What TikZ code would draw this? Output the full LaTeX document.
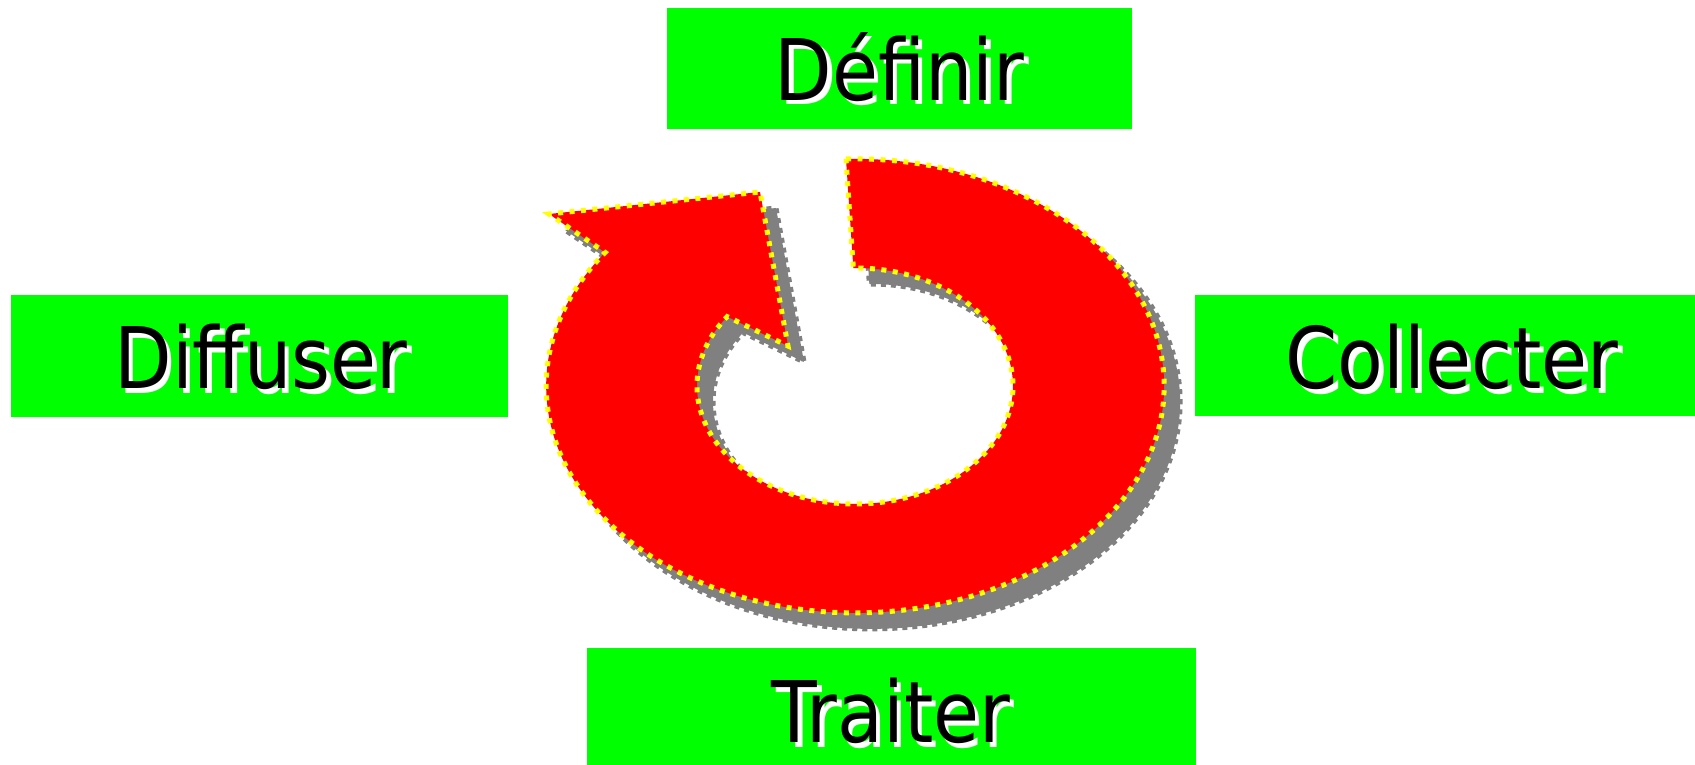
\documentclass[tikz,border=0pt]{standalone}
\usepackage{fontspec}
\setmainfont[FakeStretch=0.88]{DejaVu Sans}
\usetikzlibrary{calc}
\definecolor{boxgreen}{HTML}{00FF00}
\definecolor{arrred}{HTML}{FF0000}
\definecolor{arryellow}{HTML}{FFFF00}
\definecolor{shgray}{HTML}{808080}
\newcommand{\shadowtext}[1]{\makebox[0pt][l]{\hspace{4.5pt}\raisebox{-4.5pt}{\textcolor{white}{#1}}}#1}
\tikzset{
  box/.style={fill=boxgreen, draw=none, inner sep=0pt},
  lbl/.style={anchor=base, inner sep=0pt, text=black, font=\fontsize{85}{100}\selectfont},
  arrowbody/.style={fill=arrred, draw=arryellow, line width=5pt, dash pattern=on 5pt off 6.5pt, line join=miter},
  arrowshadow/.style={fill=shgray, draw=shgray, line width=5pt, dash pattern=on 5pt off 5pt},
}
\newcommand{\cyclepath}{
  (846,606) arc[start angle=91.7, end angle=-216, x radius=309, y radius=227]
  -- (549,551) -- (760,573) -- (788,419)
  -- ($(855,379)+(-216:158 and 118)$)
  arc[start angle=-216, end angle=90.6, x radius=158, y radius=118]
  -- cycle}
\begin{document}
\begin{tikzpicture}[x=1pt,y=1pt]
\useasboundingbox (0,0) rectangle (1695,765);
% boxes
\node[box, minimum width=465pt, minimum height=121pt] (def) at (899.5,696.5) {};
\node[box, minimum width=497pt, minimum height=122pt] (dif) at (259.5,409) {};
\node[box, minimum width=500pt, minimum height=121pt] (col) at (1445,409.5) {};
\node[box, minimum width=609pt, minimum height=117pt] (tra) at (891.5,58.5) {};
% labels
\node[lbl] (deft) at (899.5,664.5) {\shadowtext{Définir}};
\node[lbl] (dift) at (261,376) {\shadowtext{Diffuser}};
\node[lbl] (colt) at (1452,376) {\shadowtext{Collecter}};
\node[lbl] (trat) at (891,22) {\shadowtext{Traiter}};
% cycle arrow
\begin{scope}[shift={(16,-16)}]
  \path[arrowshadow] \cyclepath;
\end{scope}
\path[arrowbody] \cyclepath;
\end{tikzpicture}
\end{document}
